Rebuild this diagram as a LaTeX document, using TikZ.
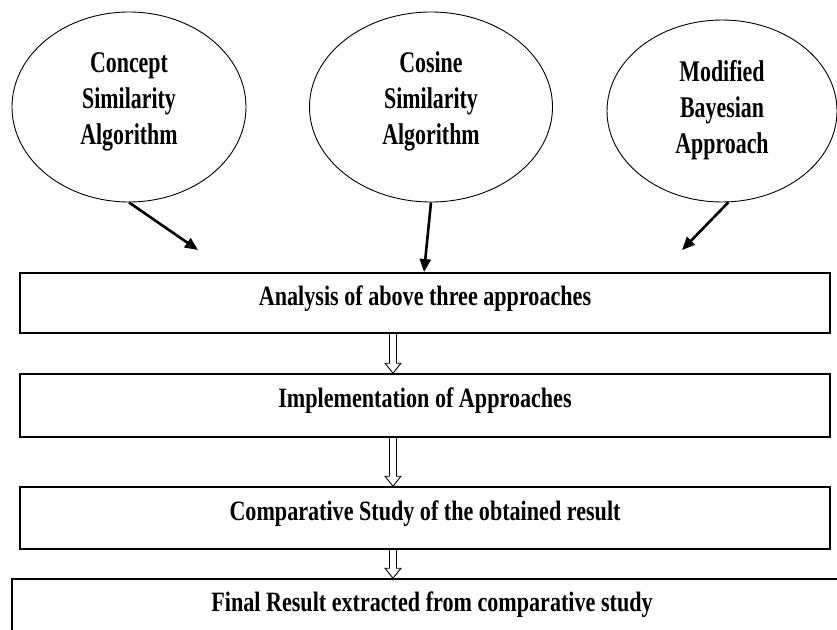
\documentclass[tikz,border=0pt]{standalone}
\usepackage{fontspec}
\newfontfamily\ovalfont{Liberation Serif}[FakeStretch=0.73]
\newfontfamily\boxfont{Liberation Serif}[FakeStretch=0.79]
\usetikzlibrary{shapes.geometric,arrows.meta,calc}
\newcommand\hollowarrow[2]{%
  \draw[hollow] let \p1=(#1.south -| ax), \p2=(#2.north -| ax) in
    (\x1-3.5pt,\y1) -- (\x1-3.5pt,\y2+10pt) -- (\x1-8pt,\y2+10pt) -- (\x1,\y2)
    -- (\x1+8pt,\y2+10pt) -- (\x1+3.5pt,\y2+10pt) -- (\x1+3.5pt,\y1);}
\newcommand\ovaltext[2][6pt]{\raisebox{#1}[\height][\depth]{\begin{tabular}{@{}c@{}}#2\end{tabular}}}
\begin{document}
\begin{tikzpicture}[x=1pt,y=-1pt,
  oval/.style={draw,ellipse,line width=0.9pt,inner sep=0pt,
    font=\ovalfont\bfseries\fontsize{30}{36}\selectfont},
  stage/.style={draw,rectangle,line width=1.6pt,minimum width=810pt,inner sep=0pt,
    text height=20pt,text depth=16pt,
    font=\boxfont\bfseries\fontsize{28}{30}\selectfont},
  feed/.style={line width=2.6pt,-{Triangle[length=13pt,width=11pt]}},
  hollow/.style={line width=0.9pt}]
\clip (0,0) rectangle (837,629);
\fill[white] (0,0) rectangle (837,629);
\coordinate (ax) at (393,0);
% ellipses
\node[oval,minimum width=234pt,minimum height=190pt] (e1) at (129,107)
  {\ovaltext{Concept\\Similarity\\Algorithm}};
\node[oval,minimum width=243pt,minimum height=190pt] (e2) at (431,107)
  {\ovaltext{Cosine\\Similarity\\Algorithm}};
\node[oval,minimum width=230pt,minimum height=182pt] (e3) at (722,111)
  {\ovaltext[1pt]{Modified\\Bayesian\\Approach}};
% boxes
\node[stage,minimum height=60pt] (b1) at (425,303) {Analysis of above three approaches};
\node[stage,minimum height=63pt] (b2) at (425,405.5) {Implementation of Approaches};
\node[stage,minimum height=62pt] (b3) at (425,518) {Comparative Study of the obtained result};
\node[stage,minimum width=840pt,minimum height=72pt,text depth=27pt] (b4) at (432,615)
  {Final Result extracted from comparative study};
% feeding arrows
\coordinate (t1) at (198,250);
\coordinate (t2) at (424,272);
\coordinate (t3) at (682,250);
\draw[feed] (e1.south) -- (t1);
\draw[feed] (e2.south) -- (t2);
\draw[feed] (e3.-86) -- (t3);
% hollow arrows
\hollowarrow{b1}{b2}
\hollowarrow{b2}{b3}
\hollowarrow{b3}{b4}
\end{tikzpicture}
\end{document}
